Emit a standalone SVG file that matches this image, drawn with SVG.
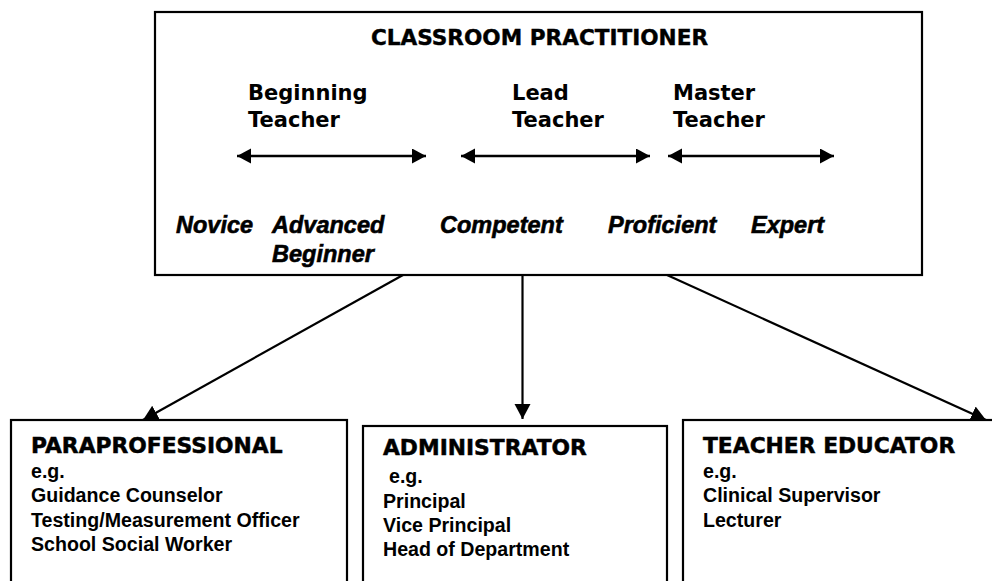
<svg xmlns="http://www.w3.org/2000/svg" width="992" height="581" viewBox="0 0 992 581">
  <style>
    .box { fill: #ffffff; stroke: #000000; stroke-width: 2.2; }
    .line { stroke: #000000; stroke-width: 2.2; fill: none; }
    .scale { stroke: #000000; stroke-width: 2.6; fill: none; }
    .title { font-family: "DejaVu Sans", "Verdana", sans-serif; font-weight: bold; font-size: 21.6px; fill: #000; stroke: #000; stroke-width: 0.4; }
    .role { font-family: "DejaVu Sans", "Verdana", sans-serif; font-weight: bold; font-size: 21px; fill: #000; }
    .stage { font-family: "Liberation Sans", Arial, sans-serif; font-weight: bold; font-style: italic; font-size: 23.5px; fill: #000; stroke: #000; stroke-width: 0.6; }
    .head { font-family: "DejaVu Sans", "Verdana", sans-serif; font-weight: bold; font-size: 21.8px; fill: #000; stroke: #000; stroke-width: 0.5; }
    .item { font-family: "Liberation Sans", Arial, sans-serif; font-weight: bold; font-size: 19.6px; fill: #000; }
  </style>
  <defs>
    <marker id="headSmall" markerUnits="userSpaceOnUse" markerWidth="16" markerHeight="16" refX="14" refY="7.5" orient="auto-start-reverse">
      <path d="M0,0 L14,7.5 L0,15 z" fill="#000"/>
    </marker>
    <marker id="headLarge" markerUnits="userSpaceOnUse" markerWidth="18" markerHeight="18" refX="15" refY="8" orient="auto">
      <path d="M0,0 L15,8 L0,16 z" fill="#000"/>
    </marker>
  </defs>

  <rect width="992" height="581" fill="#ffffff"/>

  <!-- Classroom practitioner career ladder -->
  <g id="classroom-practitioner">
    <rect class="box" x="155" y="12" width="767" height="263"/>
    <text class="title" x="539.5" y="45" text-anchor="middle">CLASSROOM PRACTITIONER</text>

    <text class="role" x="248" y="100">Beginning</text>
    <text class="role" x="248" y="127">Teacher</text>
    <text class="role" x="512" y="100">Lead</text>
    <text class="role" x="512" y="127">Teacher</text>
    <text class="role" x="673" y="100">Master</text>
    <text class="role" x="673" y="127">Teacher</text>

    <line class="scale" x1="237" y1="156" x2="426" y2="156" marker-start="url(#headSmall)" marker-end="url(#headSmall)"/>
    <line class="scale" x1="461" y1="156" x2="650" y2="156" marker-start="url(#headSmall)" marker-end="url(#headSmall)"/>
    <line class="scale" x1="668" y1="156" x2="834" y2="156" marker-start="url(#headSmall)" marker-end="url(#headSmall)"/>

    <text class="stage" x="176" y="233">Novice</text>
    <text class="stage" x="272" y="233">Advanced</text>
    <text class="stage" x="272" y="262">Beginner</text>
    <text class="stage" x="440" y="233">Competent</text>
    <text class="stage" x="608" y="233">Proficient</text>
    <text class="stage" x="751" y="233">Expert</text>
  </g>

  <!-- Career branches -->
  <g id="paraprofessional">
    <rect class="box" x="11" y="420" width="336" height="200"/>
    <text class="head" x="31" y="453">PARAPROFESSIONAL</text>
    <text class="item" x="31" y="478">e.g.</text>
    <text class="item" x="31" y="502">Guidance Counselor</text>
    <text class="item" x="31" y="527">Testing/Measurement Officer</text>
    <text class="item" x="31" y="551">School Social Worker</text>
  </g>

  <g id="administrator">
    <rect class="box" x="363" y="426" width="304" height="200"/>
    <text class="head" x="383" y="455">ADMINISTRATOR</text>
    <text class="item" x="389" y="483">e.g.</text>
    <text class="item" x="383" y="508">Principal</text>
    <text class="item" x="383" y="532">Vice Principal</text>
    <text class="item" x="383" y="556">Head of Department</text>
  </g>

  <g id="teacher-educator">
    <rect class="box" x="683" y="420" width="400" height="200"/>
    <text class="head" x="703" y="453">TEACHER EDUCATOR</text>
    <text class="item" x="703" y="478">e.g.</text>
    <text class="item" x="703" y="502">Clinical Supervisor</text>
    <text class="item" x="703" y="527">Lecturer</text>
  </g>

  <!-- Connectors from the practitioner box to each branch -->
  <g id="connectors">
    <line class="line" x1="403" y1="275" x2="143" y2="420" marker-end="url(#headLarge)"/>
    <line class="line" x1="522.5" y1="275" x2="522.5" y2="419" marker-end="url(#headLarge)"/>
    <line class="line" x1="667" y1="275" x2="986" y2="420" marker-end="url(#headLarge)"/>
  </g>
</svg>
